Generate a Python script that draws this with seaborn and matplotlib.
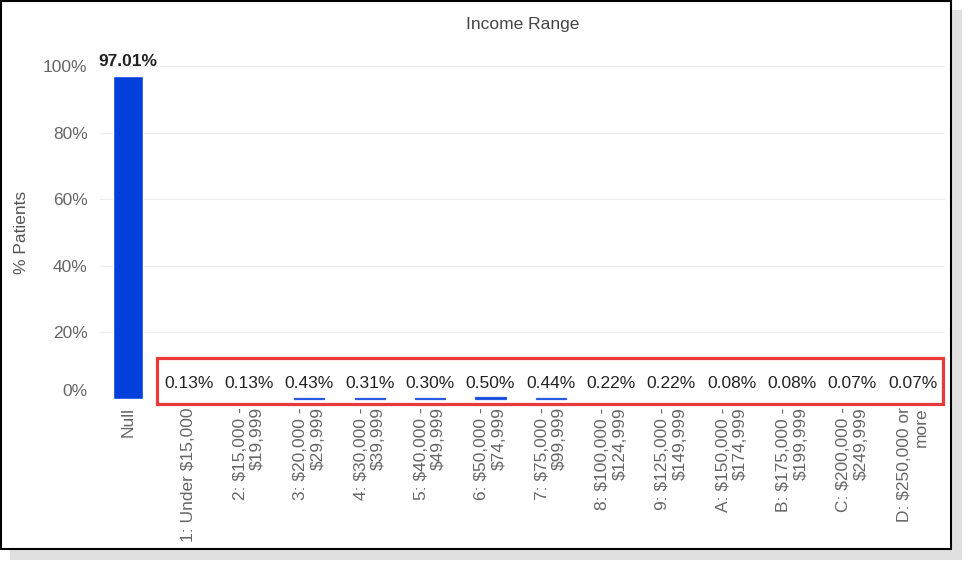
import matplotlib
matplotlib.use("Agg")
import matplotlib.pyplot as plt
import matplotlib.patches as patches
import seaborn as sns
import pandas as pd

# Data
categories = ["Null", "1: Under $15,000", "2: $15,000 -\n$19,999", "3: $20,000 -\n$29,999",
              "4: $30,000 -\n$39,999", "5: $40,000 -\n$49,999", "6: $50,000 -\n$74,999",
              "7: $75,000 -\n$99,999", "8: $100,000 -\n$124,999", "9: $125,000 -\n$149,999",
              "A: $150,000 -\n$174,999", "B: $175,000 -\n$199,999", "C: $200,000 -\n$249,999",
              "D: $250,000 or\nmore"]
pct_patients = [97.01, 0.13, 0.13, 0.43, 0.31, 0.30, 0.50, 0.44, 0.22, 0.22, 0.08, 0.08, 0.07, 0.07]

df = pd.DataFrame({"Income": categories, "Pct": pct_patients})

sns.set_theme(style="white")
plt.rcParams["font.family"] = ["Liberation Sans", "DejaVu Sans"]

fig = plt.figure(figsize=(9.71, 5.70), dpi=100)
ax = fig.add_axes([0.103, 1 - 399 / 570, 0.870, 333 / 570])

sns.barplot(data=df, x="Income", y="Pct", color="#0340db", saturation=1, width=0.5, ax=ax)

ax.set_xlim(-0.47, 13.53)
ax.set_ylim(0, 100)
ax.set_yticks([0, 20, 40, 60, 80, 100])
ax.set_yticklabels(["0%", "20%", "40%", "60%", "80%", "100%"], color="#666666", fontsize=12.5)
ax.get_yticklabels()[0].set_va("bottom")
ax.yaxis.grid(True, color="#ececec", linewidth=0.8)
ax.set_axisbelow(True)
for s in ax.spines.values():
    s.set_visible(False)
ax.tick_params(axis="y", length=0, pad=9)
ax.tick_params(axis="x", length=0, pad=6)
# thin bars show up as a short line under their labels
for p, v in zip(ax.patches, pct_patients):
    p.set_clip_on(False)
    if v >= 0.3 and v < 1:
        p.set_edgecolor("#2a5be0")
        p.set_linewidth(0.9)

ax.set_xticks(range(len(categories)))
ax.set_xticklabels(categories, rotation=90, color="#666666", fontsize=12.5,
                   va="top", ha="center", multialignment="right")
ax.set_xlabel("")
ax.set_ylabel("% Patients", color="#555555", fontsize=12.5, labelpad=10)
ax.set_title("Income Range", color="#444444", fontsize=12.5, pad=27)

# value labels
for i, v in enumerate(pct_patients):
    if i == 0:
        ax.text(i, v + 2.0, f"{v:.2f}%", ha="center", va="bottom", fontsize=12.5,
                color="#222222", fontweight="bold")
    else:
        ax.text(i, 2.3, f"{v:.2f}%", ha="center", va="bottom", fontsize=12.5, color="#222222")

# red highlight box
fig.patches.append(patches.Rectangle((157 / 971, 1 - 404 / 570), (943 - 157) / 971, (404 - 358) / 570,
                                     transform=fig.transFigure, fill=False,
                                     edgecolor="#e8393b", linewidth=2.3))

# screenshot frame with shadow
fig.patches.append(patches.Rectangle((10 / 971, 1 - 560 / 570), 952 / 971, 550 / 570,
                                     transform=fig.transFigure, facecolor="#c8c8c8",
                                     edgecolor="none", alpha=0.55, zorder=-2))
fig.patches.append(patches.Rectangle((1 / 971, 1 - 549 / 570), 950 / 971, 548 / 570,
                                     transform=fig.transFigure, facecolor="white",
                                     edgecolor="black", linewidth=1.5, zorder=-1))

fig.savefig("out.png", dpi=100)
